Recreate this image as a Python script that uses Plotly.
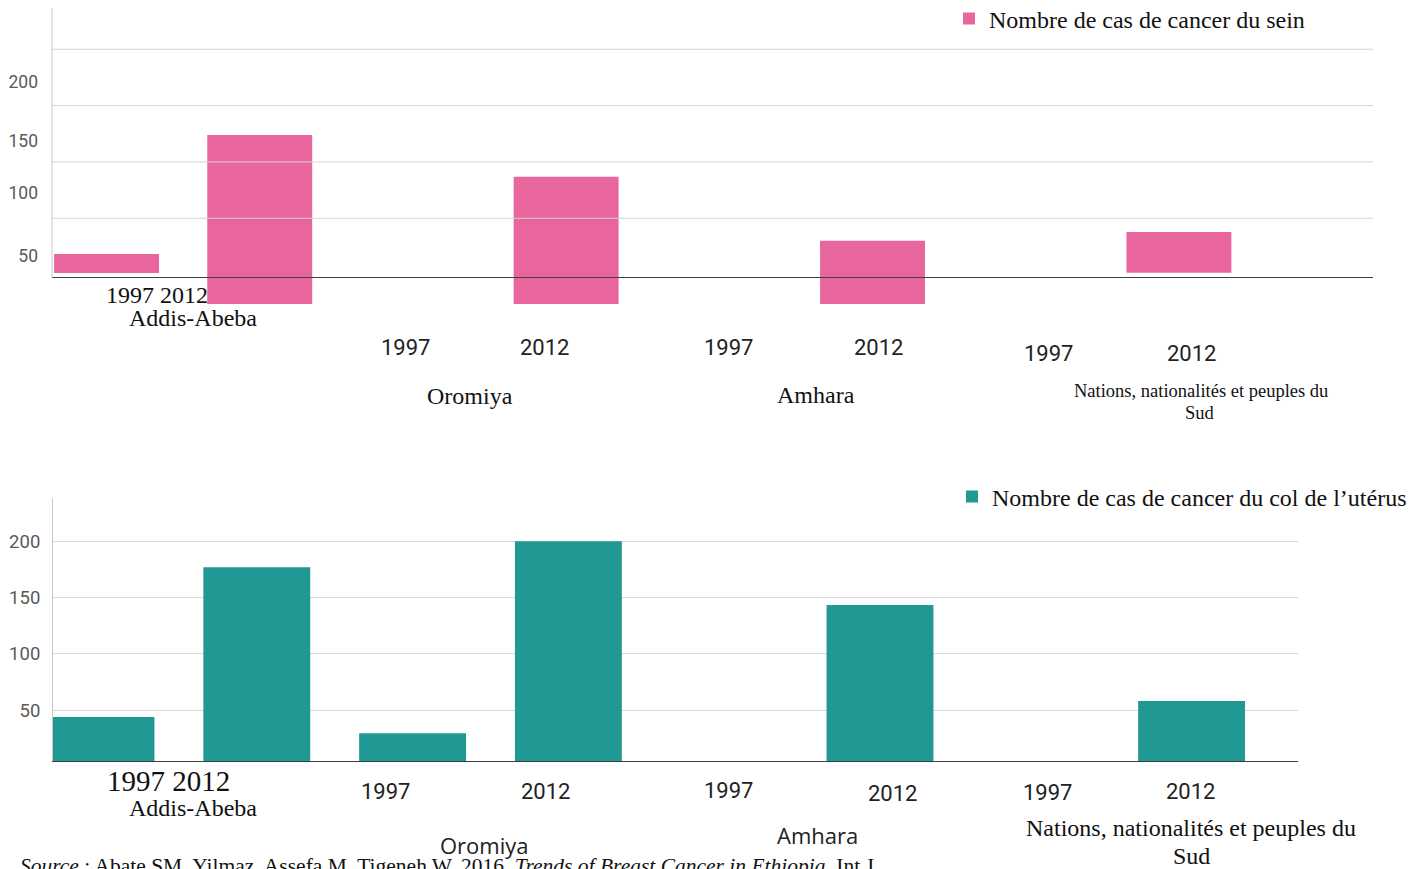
import plotly.graph_objects as go

W, H = 1422, 869
OFF = 8  # the page body margin shifts the figure by this many pixels

# ---------------- data ----------------
categories = ["Addis-Abeba 1997", "Addis-Abeba 2012", "Oromiya 1997", "Oromiya 2012",
              "Amhara 1997", "Amhara 2012", "Sud 1997", "Sud 2012"]
# breast cancer panel (bar top and bar base)
breast_top = [18.3, 123.9, None, 86.9, None, 30.1, None, 37.8]
breast_base = [1.4, -26.1, None, -26.1, None, -26.1, None, 1.7]
# cervical cancer panel
cervix_cases = [44.0, 176.9, 29.7, 200.0, None, 143.4, None, 58.2]

top_tick_vals = [16.7, 72.9, 118.6, 171.2]
top_tick_text = ["50", "100", "150", "200"]
grid_vals = [50, 100, 150, 200]
bottom_tick_text = ["50", "100", "150", "200"]

breast_name = "Nombre de cas de cancer du sein"
cervix_name = "Nombre de cas de cancer du col de l’utérus"
source_text = ("<i>Source</i> : Abate SM, Yilmaz, Assefa M, Tigeneh W. 2016. "
               "<i>Trends of Breast Cancer in Ethiopia</i>. Int J")

PINK = "#E8669D"
TEAL = "#209894"
SERIF = "Liberation Serif, Times New Roman, serif"
YEARF = "Roboto, Open Sans, sans-serif"
SANS = "Open Sans, Noto Sans, sans-serif"

breast_len = [None if t is None else t - b for t, b in zip(breast_top, breast_base)]

def px_x(p):
    return (p - OFF) / W

def px_y(p):
    return 1 - (p - OFF) / H

fig = go.Figure()
fig.add_trace(go.Bar(x=categories, y=breast_len, base=breast_base, width=0.685,
                     marker=dict(color=PINK, line=dict(width=0)),
                     name=breast_name, xaxis="x", yaxis="y", legend="legend",
                     hoverinfo="skip"))
fig.add_trace(go.Bar(x=categories, y=cervix_cases, width=0.686,
                     marker=dict(color=TEAL, line=dict(width=0)),
                     name=cervix_name, xaxis="x2", yaxis="y2", legend="legend2",
                     hoverinfo="skip"))

# ---------------- annotations (axis labels) ----------------
annotations = []
def ann(text, x, y, size, family, color="#111111"):
    annotations.append(dict(text=text, x=px_x(x), y=px_y(y), xref="paper", yref="paper",
                            showarrow=False, xanchor="center", yanchor="middle",
                            font=dict(size=size, family=family, color=color)))

# top panel labels
ann("1997 2012", 157, 294.5, 24, SERIF)
ann("Addis-Abeba", 193, 318, 24, SERIF)
for t, x, y in [("1997", 405.5, 348), ("2012", 544.5, 348), ("1997", 728, 348),
                ("2012", 878, 348), ("1997", 1048.5, 353), ("2012", 1191, 353)]:
    ann(t, x, y, 22, YEARF, "#222222")
ann("Oromiya", 470, 396, 24, SERIF)
ann("Amhara", 815.5, 395, 24, SERIF)
ann("Nations, nationalités et peuples du", 1200.5, 391, 18.5, SERIF)
ann("Sud", 1199.5, 413, 18.5, SERIF)

# bottom panel labels
ann("1997 2012", 168.5, 781, 29, SERIF)
ann("Addis-Abeba", 193, 808, 24, SERIF)
for t, x, y in [("1997", 385, 791), ("2012", 545, 791), ("1997", 728, 790.5),
                ("2012", 892, 793), ("1997", 1047.5, 792.5), ("2012", 1190.5, 791)]:
    ann(t, x, y, 22, YEARF, "#222222")
ann("Oromiya", 484, 845, 22, SANS, "#222222")
ann("Amhara", 817.5, 834.5, 22, SANS, "#222222")
ann("Nations, nationalités et peuples du", 1191, 828, 24, SERIF)
ann("Sud", 1191.5, 856, 24, SERIF)

# source line (cut at the bottom edge)
annotations.append(dict(text=source_text, x=px_x(18), y=px_y(866), xref="paper", yref="paper",
                        showarrow=False, xanchor="left", yanchor="middle",
                        font=dict(size=21.5, family=SERIF, color="#111111")))

# ---------------- shapes ----------------
shapes = []
for v in grid_vals:
    shapes.append(dict(type="line", xref="x domain", yref="y", x0=0, x1=1, y0=v, y1=v,
                       line=dict(color="#d3d3d3", width=1), layer="above"))
shapes.append(dict(type="line", xref="paper", yref="paper", x0=px_x(52), x1=px_x(52),
                   y0=px_y(277), y1=1.0, line=dict(color="#c8c8c8", width=1)))

fig.update_layout(
    width=W, height=H,
    margin=dict(l=0, r=0, t=0, b=0, autoexpand=False),
    paper_bgcolor="white", plot_bgcolor="white",
    bargap=0.3,
    showlegend=True,
    annotations=annotations,
    shapes=shapes,
    xaxis=dict(domain=[px_x(52), px_x(1373)], anchor="free", position=px_y(277.3),
               type="category", categoryorder="array", categoryarray=categories,
               range=[-0.356, 8.267], showline=True, linecolor="#404040", linewidth=1,
               showticklabels=False, showgrid=False, ticks="", zeroline=False,
               automargin=False, fixedrange=True),
    yaxis=dict(domain=[px_y(304), 1.0], anchor="x", range=[-26.1, 236.6],
               tickvals=top_tick_vals, ticktext=top_tick_text, showgrid=False,
               showline=False, zeroline=False, ticks="", ticklabelstandoff=13,
               tickfont=dict(family=YEARF, size=17.5, color="#5a5a5a"),
               automargin=False, fixedrange=True),
    xaxis2=dict(domain=[px_x(53), px_x(1298)], anchor="y2",
                type="category", categoryorder="array", categoryarray=categories,
                range=[-0.308, 7.683], showline=True, linecolor="#404040", linewidth=1,
                showticklabels=False, showgrid=False, ticks="", zeroline=False,
                automargin=False, fixedrange=True),
    yaxis2=dict(domain=[px_y(761.3), px_y(498)], anchor="x2", range=[4.7, 238.4],
                tickvals=grid_vals, ticktext=bottom_tick_text, showgrid=True,
                gridcolor="#d9d9d9", gridwidth=1, showline=True, linecolor="#c8c8c8",
                zeroline=False, ticks="", ticklabelstandoff=8,
                tickfont=dict(family=YEARF, size=18.5, color="#5a5a5a"),
                automargin=False, fixedrange=True),
    legend=dict(x=px_x(949), y=px_y(19), xanchor="left", yanchor="middle",
                bgcolor="rgba(0,0,0,0)", font=dict(family=SERIF, size=24, color="#111111")),
    legend2=dict(x=px_x(952), y=px_y(497), xanchor="left", yanchor="middle",
                 bgcolor="rgba(0,0,0,0)", font=dict(family=SERIF, size=24, color="#111111")),
)

fig.write_html("out.html")
